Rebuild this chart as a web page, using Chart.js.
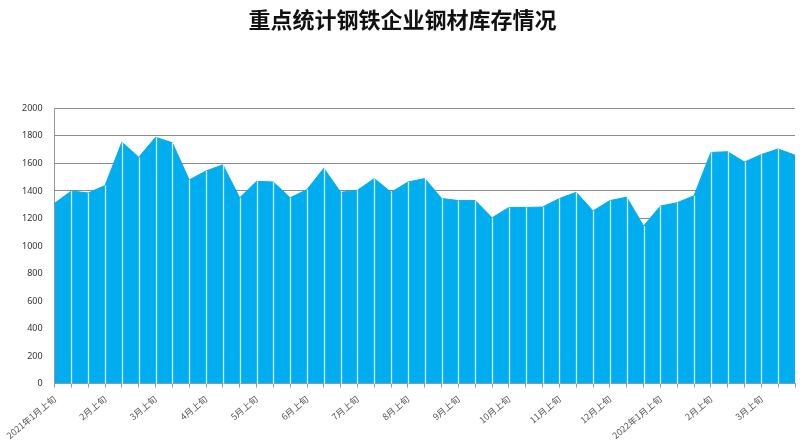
<!DOCTYPE html>
<html>
<head>
<meta charset="utf-8">
<script src="https://cdn.jsdelivr.net/npm/chart.js@4/dist/chart.umd.min.js"></script>
<style>
  html,body{margin:0;padding:0;background:#fff;}
  #wrap{position:relative;width:808px;height:447px;}
</style>
</head>
<body>
<div id="wrap"><canvas id="c"></canvas></div>
<script>
/* 重点统计钢铁企业钢材库存情况 — 每旬数据，万吨 */
const TITLE = '重点统计钢铁企业钢材库存情况';
const MONTHS = [
  '2021年1月','2月','3月','4月','5月','6月','7月','8月','9月','10月','11月','12月',
  '2022年1月','2月','3月'
];
const PERIODS = ['上旬','中旬','下旬'];
const STOCK = [
  1310,1400,1385,1440,1755,1645,1790,1750,1480,1545,1590,1350,
  1470,1465,1350,1410,1565,1390,1405,1490,1390,1465,1490,1345,
  1330,1330,1205,1280,1280,1283,1345,1390,1255,1330,1355,1145,
  1290,1315,1365,1680,1685,1610,1665,1705,1660
];
const Y_MIN = 0, Y_MAX = 2000, Y_STEP = 200;

const labels = [];
MONTHS.forEach(m=>PERIODS.forEach(p=>labels.push(m+p)));

/* white drop lines from each point down to the axis */
const dropLines = {
  id:'dropLines',
  afterDatasetsDraw(chart){
    const {ctx,chartArea} = chart;
    const pts = chart.getDatasetMeta(0).data;
    ctx.save();
    ctx.strokeStyle='rgba(225,245,255,0.9)';
    ctx.lineWidth=1.3;
    pts.forEach((p,i)=>{
      if(i===0||i===pts.length-1) return;
      ctx.beginPath();
      ctx.moveTo(Math.round(p.x)+0.5,p.y);
      ctx.lineTo(Math.round(p.x)+0.5,chartArea.bottom);
      ctx.stroke();
    });
    ctx.restore();
  }
};

new Chart(document.getElementById('c'),{
  type:'line',
  data:{
    labels:labels,
    datasets:[{
      data:STOCK,
      borderColor:'#00AEEF',
      backgroundColor:'#00AEEF',
      borderWidth:1,
      pointRadius:0,
      tension:0,
      fill:'origin'
    }]
  },
  options:{
    responsive:true, maintainAspectRatio:false, animation:false,
    layout:{padding:{left:10,right:13,top:0,bottom:0}},
    plugins:{
      legend:{display:false},
      tooltip:{enabled:false},
      title:{
        display:true,text:TITLE,color:'#111',
        font:{family:'"Noto Sans CJK SC","Noto Sans",sans-serif',size:22,weight:'bold'},
        padding:{top:6,bottom:76}
      }
    },
    scales:{
      x:{
        offset:false,
        grid:{display:true,drawOnChartArea:false,drawTicks:true,tickLength:4,color:'#999'},
        border:{display:true,color:'#999'},
        ticks:{
          autoSkip:false,maxRotation:40,minRotation:40,padding:6,
          color:'#555',font:{family:'"Noto Sans CJK SC",sans-serif',size:9},
          callback:(v,i)=>i%3===0?labels[i]:''
        }
      },
      y:{
        min:Y_MIN,max:Y_MAX,
        grid:{color:'#8c8c8c',lineWidth:1,drawTicks:false},
        border:{display:true,color:'#999'},
        ticks:{stepSize:Y_STEP,padding:12,color:'#333',
          font:{family:'"Noto Sans","DejaVu Sans",sans-serif',size:9},
          callback:v=>String(v)}
      }
    }
  },
  plugins:[dropLines]
});
</script>
</body>
</html>
